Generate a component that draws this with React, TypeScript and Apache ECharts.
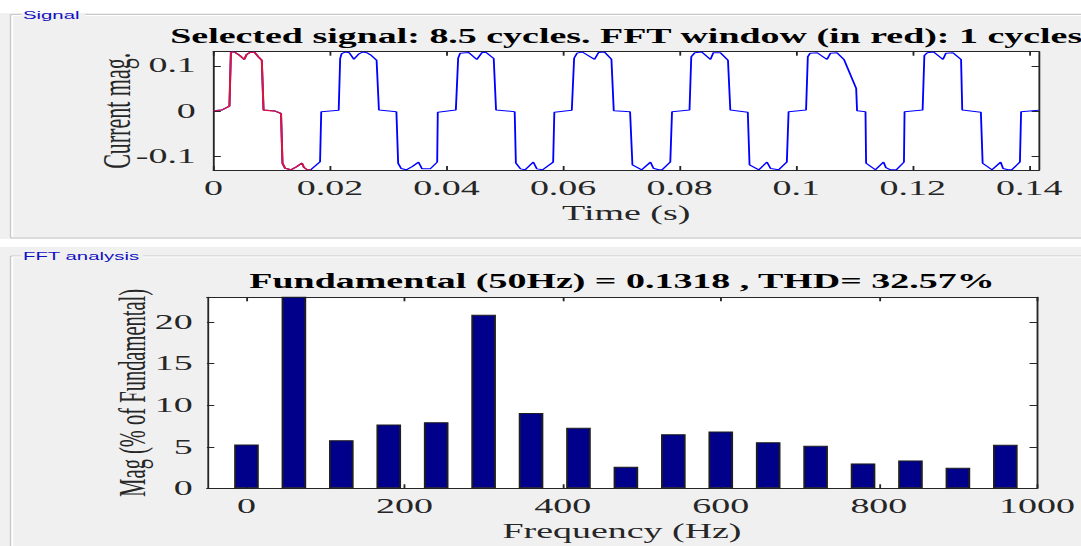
import React, { useEffect, useRef } from "react";
import * as echarts from "echarts";

// ---------- data ----------
const signalTitle = "Selected signal: 8.5 cycles. FFT window (in red): 1 cycles";
const fftTitle = "Fundamental (50Hz) = 0.1318 , THD= 32.57%";

// [time (s), current]
const signalPoints: [number, number][] = [
  [0, 0], [0.0014, 0.0016], [0.00275, 0.0104], [0.003, 0.1305], [0.0036, 0.1305], [0.0045, 0.123],
  [0.0053, 0.114], [0.0057, 0.125], [0.0063, 0.1295], [0.007, 0.1305], [0.0077, 0.12], [0.0083, 0.112],
  [0.0086, 0.0015], [0.0106, -0.0007], [0.0116, -0.006], [0.01185, -0.1165], [0.0123, -0.1276],
  [0.0133, -0.131], [0.0143, -0.124], [0.0152, -0.116], [0.01555, -0.126], [0.0161, -0.131],
  [0.0167, -0.131], [0.0183, -0.113], [0.0185, -0.002], [0.0215, 0.001],

  [0.02175, 0.116], [0.022, 0.127], [0.0226, 0.1305], [0.0233, 0.129], [0.0241, 0.1145], [0.0249, 0.1256],
  [0.0256, 0.1305], [0.0263, 0.129], [0.0271, 0.123], [0.028, 0.112], [0.0284, 0.0015], [0.0314, -0.002],
  [0.0317, -0.1165], [0.0322, -0.128], [0.0331, -0.131], [0.0341, -0.124], [0.0352, -0.114], [0.0358, -0.129],
  [0.0372, -0.129], [0.0384, -0.114], [0.0385, -0.0035], [0.0416, 0.0015],

  [0.042, 0.117], [0.04235, 0.128], [0.0438, 0.1295], [0.0452, 0.114], [0.0461, 0.1295], [0.0468, 0.1295],
  [0.0481, 0.116], [0.0485, 0.0015], [0.0517, -0.002], [0.0519, -0.116], [0.0527, -0.129], [0.0535, -0.131],
  [0.0549, -0.114], [0.0555, -0.129], [0.0565, -0.131], [0.0583, -0.114], [0.0585, -0.0035], [0.0615, 0.001],

  [0.0619, 0.117], [0.0624, 0.128], [0.0633, 0.1305], [0.0654, 0.114], [0.0661, 0.1295], [0.0671, 0.1305],
  [0.0683, 0.1145], [0.0687, 0], [0.0715, -0.002], [0.0719, -0.12], [0.0735, -0.131], [0.075, -0.114],
  [0.0755, -0.1276], [0.0764, -0.131], [0.077, -0.131], [0.0784, -0.114], [0.0787, -0.002], [0.0817, 0.0015],

  [0.082, 0.12], [0.0826, 0.129], [0.0838, 0.1305], [0.0853, 0.114], [0.0858, 0.129], [0.087, 0.129],
  [0.0883, 0.112], [0.0887, 0.0015], [0.0917, -0.0035], [0.092, -0.12], [0.0936, -0.131], [0.095, -0.114],
  [0.0956, -0.128], [0.097, -0.131], [0.0984, -0.114], [0.0987, -0.002], [0.1017, 0.0015],

  [0.102, 0.12], [0.1024, 0.128], [0.1036, 0.129], [0.1053, 0.114], [0.1059, 0.128], [0.107, 0.129],
  [0.1082, 0.114], [0.1103, 0.0496], [0.11045, 0], [0.1119, -0.002], [0.112, -0.1165], [0.1136, -0.131],
  [0.115, -0.114], [0.1154, -0.126], [0.1162, -0.131], [0.1172, -0.131], [0.1185, -0.114], [0.1186, -0.002],
  [0.1217, 0.0015],

  [0.122, 0.123], [0.1225, 0.129], [0.1236, 0.1305], [0.1252, 0.114], [0.1257, 0.128], [0.1269, 0.129],
  [0.1283, 0.114], [0.1285, 0.0015], [0.1317, -0.0035], [0.132, -0.1165], [0.1336, -0.131], [0.1351, -0.114],
  [0.1355, -0.128], [0.1364, -0.131], [0.137, -0.131], [0.1384, -0.114], [0.1386, -0.002], [0.1416, 0.001],
];
const fftWindowEnd = 0.0167;
const timeMax = 0.14167;
const currentMin = -0.1315;
const currentMax = 0.1312;
const timeTicks = [0, 0.02, 0.04, 0.06, 0.08, 0.1, 0.12, 0.14];
const currentTicks = [-0.1, 0, 0.1];

const harmonicFreqs = [0, 60, 120, 180, 240, 300, 360, 420, 480, 540, 600, 660, 720, 780, 840, 900, 960];
const harmonicMags = [5.28, 100, 5.8, 7.68, 7.96, 20.9, 9.08, 7.28, 2.6, 6.52, 6.84, 5.56, 5.12, 3.0, 3.36, 2.47, 5.24];
const freqMin = -50;
const freqMax = 1000;
const magMax = 23;
const freqTicks = [0, 200, 400, 600, 800, 1000];
const magTicks = [0, 5, 10, 15, 20];

// ---------- layout ----------
const BASE_W = 584;
const H = 546;
const SCALE_X = 1081 / BASE_W;
const serif = "'Liberation Serif', 'Times New Roman', serif";
const sans = "'Liberation Sans', Arial, sans-serif";
const axisColor = "#262626";
const FS = 20.5;

const fmtNum = (v: number) => String(Number(v.toFixed(4)));

function mainX(gridIndex: number, min: number, max: number, ticks: number[], name: string, gap: number) {
  return {
    type: "value", gridIndex, position: "bottom", min, max, name, nameLocation: "middle", nameGap: gap,
    nameTextStyle: { fontFamily: serif, fontSize: FS, color: axisColor },
    axisLine: { show: true, onZero: false, lineStyle: { color: axisColor, width: 1 } },
    axisTick: { show: true, inside: true, length: 4, customValues: ticks, lineStyle: { color: axisColor } },
    axisLabel: { show: true, customValues: ticks, margin: 7.5, formatter: fmtNum, fontFamily: serif, fontSize: FS, color: axisColor },
    splitLine: { show: false },
  };
}
function mirrorX(gridIndex: number, min: number, max: number, ticks: number[]) {
  return {
    type: "value", gridIndex, position: "top", min, max,
    axisLine: { show: true, onZero: false, lineStyle: { color: axisColor, width: 1 } },
    axisTick: { show: true, inside: true, length: 4, customValues: ticks, lineStyle: { color: axisColor } },
    axisLabel: { show: false }, splitLine: { show: false },
  };
}
function mainY(gridIndex: number, min: number, max: number, ticks: number[], name: string, gap: number, margin: number, nameSize: number) {
  return {
    type: "value", gridIndex, position: "left", min, max, name, nameLocation: "middle", nameGap: gap, nameRotate: 90,
    nameMoveOverlap: false,
    nameTextStyle: { fontFamily: serif, fontSize: nameSize, color: axisColor },
    axisLine: { show: true, onZero: false, lineStyle: { color: axisColor, width: 1 } },
    axisTick: { show: true, inside: true, length: 4, customValues: ticks, lineStyle: { color: axisColor } },
    axisLabel: { show: true, customValues: ticks, margin, formatter: fmtNum, fontFamily: serif, fontSize: FS, color: axisColor },
    splitLine: { show: false },
  };
}
function mirrorY(gridIndex: number, min: number, max: number, ticks: number[]) {
  return {
    type: "value", gridIndex, position: "right", min, max,
    axisLine: { show: true, onZero: false, lineStyle: { color: axisColor, width: 1 } },
    axisTick: { show: true, inside: true, length: 4, customValues: ticks, lineStyle: { color: axisColor } },
    axisLabel: { show: false }, splitLine: { show: false },
  };
}

const frame = "#c8c8c8";
const panelGray = "#f0f0f0";

function buildOption() {
  const redPoints = signalPoints.filter((p) => p[0] <= fftWindowEnd);
  const barData = harmonicFreqs.map((f, i) => [f, harmonicMags[i]]);
  const ln = (x1: number, y1: number, x2: number, y2: number, color: string) => ({
    type: "line", silent: true, z: -50, shape: { x1, y1, x2, y2 }, style: { stroke: color, lineWidth: 1 },
  });
  return {
    animation: false,
    backgroundColor: "#ffffff",
    grid: [
      { left: 115.3, right: 22.7, top: 51.7, height: 118.3, show: true, backgroundColor: "#ffffff", borderWidth: 0, outerBoundsMode: "none" },
      { left: 111.8, right: 23.8, top: 297.3, height: 191, show: true, backgroundColor: "#ffffff", borderWidth: 0, outerBoundsMode: "none" },
    ],
    xAxis: [
      mainX(0, 0, timeMax, timeTicks, "Time (s)", 33),
      mirrorX(0, 0, timeMax, timeTicks),
      mainX(1, freqMin, freqMax, freqTicks, "Frequency (Hz)", 32),
      mirrorX(1, freqMin, freqMax, freqTicks),
    ],
    yAxis: [
      mainY(0, currentMin, currentMax, currentTicks, "Current mag.", 41.4, 9.5, 22),
      mirrorY(0, currentMin, currentMax, currentTicks),
      mainY(1, 0, magMax, magTicks, "Mag (% of Fundamental)", 29.8, 7.7, FS),
      mirrorY(1, 0, magMax, magTicks),
    ],
    series: [
      {
        type: "line", xAxisIndex: 0, yAxisIndex: 0, data: signalPoints, showSymbol: false, symbol: "none",
        lineStyle: { color: "#0000ff", width: 1 }, clip: true, silent: true, z: 2,
      },
      {
        type: "line", xAxisIndex: 0, yAxisIndex: 0, data: redPoints, showSymbol: false, symbol: "none",
        lineStyle: { color: "#dc1438", width: 1.1 }, clip: true, silent: true, z: 3,
      },
      {
        type: "bar", xAxisIndex: 2, yAxisIndex: 2, data: barData, barWidth: 13.3, clip: true, silent: true,
        itemStyle: { color: "#00008b", borderColor: "#1e1e1e", borderWidth: 1 },
      },
    ],
    graphic: [
      { type: "rect", silent: true, z: -100, shape: { x: 0, y: 13, width: BASE_W, height: 226 }, style: { fill: panelGray } },
      { type: "rect", silent: true, z: -100, shape: { x: 0, y: 247, width: BASE_W, height: 299 }, style: { fill: panelGray } },
      // Signal panel frame
      ln(5.8, 14.5, 11.4, 14.5, frame), ln(45.9, 14.5, BASE_W, 14.5, frame),
      ln(5.8, 15.5, 11.4, 15.5, "#ffffff"), ln(45.9, 15.5, BASE_W, 15.5, "#ffffff"),
      ln(5.8, 14.5, 5.8, 238, frame), ln(6.6, 15.5, 6.6, 237, "#ffffff"),
      ln(5.8, 238, BASE_W, 238, frame),
      // FFT panel frame
      ln(5.8, 256, 11.4, 256, frame), ln(77.3, 256, BASE_W, 256, frame),
      ln(5.8, 257, 11.4, 257, "#ffffff"), ln(77.3, 257, BASE_W, 257, "#ffffff"),
      ln(5.8, 256, 5.8, H, frame), ln(6.6, 257, 6.6, H, "#ffffff"),
      {
        type: "text", silent: true, x: 12.4, y: 15, z: 10,
        style: { text: "Signal", fill: "#1010c0", font: `11px ${sans}`, verticalAlign: "middle", align: "left" },
      },
      {
        type: "text", silent: true, x: 12.4, y: 256, z: 10,
        style: { text: "FFT analysis", fill: "#1010c0", font: `11px ${sans}`, verticalAlign: "middle", align: "left" },
      },
      {
        type: "text", silent: true, x: 338.3, y: 36, z: 10,
        style: { text: signalTitle, fill: "#000000", font: `bold ${FS}px ${serif}`, verticalAlign: "middle", align: "center" },
      },
      {
        type: "text", silent: true, x: 336, y: 281.4, z: 10,
        style: { text: fftTitle, fill: "#000000", font: `bold ${FS}px ${serif}`, verticalAlign: "middle", align: "center" },
      },
    ],
  };
}

export default function App() {
  const ref = useRef<HTMLDivElement>(null);
  useEffect(() => {
    if (!ref.current) return;
    const chart = echarts.init(ref.current, null, { renderer: "svg" });
    chart.setOption(buildOption() as any);
    return () => chart.dispose();
  }, []);
  return (
    <div style={{ position: "fixed", left: 0, top: 0, width: 1081, height: H, overflow: "hidden", background: "#ffffff" }}>
      <div
        ref={ref}
        style={{ width: BASE_W, height: H, transform: `scaleX(${SCALE_X})`, transformOrigin: "0 0" }}
      />
    </div>
  );
}
